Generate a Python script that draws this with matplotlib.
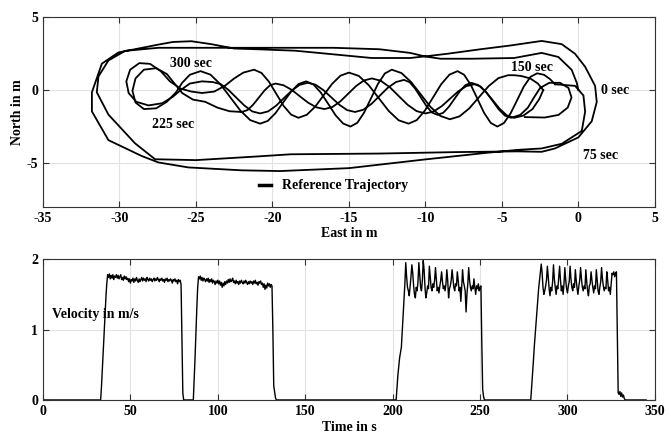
import matplotlib
matplotlib.use("Agg")
import matplotlib.pyplot as plt
import numpy as np

plt.rcParams['font.family'] = ['Liberation Serif', 'DejaVu Serif']
plt.rcParams['font.weight'] = 'bold'
plt.rcParams['axes.labelweight'] = 'bold'
plt.rcParams['axes.unicode_minus'] = False

# ---- trajectory (East / North in m) ----
# first outer lap (33-80 s) running on into the second lap (87-133 s)
lap_east = [0.0, -0.11, -0.44, -1.31, -2.4, -4.2, -7.0, -9.0, -10.0, -11.0, -13.0, -16.0,
            -20.0, -24.0, -27.45, -29.63, -30.72, -31.37, -31.48, -30.72, -28.98, -27.67,
            -25.0, -21.0, -18.8, -13.0, -8.0, -4.0, -2.4, -1.53, 0.0, 0.87, 1.2, 1.09, 0.44,
            -0.22, -1.09, -2.4,
            -4.5, -6.4, -8.5, -9.7, -11.0, -13.5, -16.0, -18.5, -21.0, -22.5, -24.0, -25.3,
            -26.5, -27.45, -30.07, -31.15, -31.8, -31.8, -30.72, -28.54, -27.45, -25.5, -22.0,
            -19.5, -15.0, -10.0, -6.0, -4.0, -2.4, -1.09, 0.22, 0.44, 0.33, -0.22, -1.53]
lap_north = [0.0, 0.51, 1.39, 2.27, 2.55, 2.2, 2.15, 2.15, 2.3, 2.55, 2.8, 2.9,
             2.9, 2.9, 2.9, 2.69, 2.03, 0.94, -0.15, -1.68, -3.65, -4.74,
             -4.8, -4.55, -4.4, -4.35, -4.25, -4.2, -4.23, -4.0, -3.24, -2.14, -0.81, 0.29, 1.6,
             2.49, 3.15, 3.37,
             3.05, 2.8, 2.5, 2.35, 2.2, 2.2, 2.45, 2.7, 2.8, 2.85, 3.15, 3.35,
             3.3, 3.12, 2.58, 1.81, -0.15, -1.46, -3.43, -4.52, -4.96, -5.3, -5.5,
             -5.55, -5.35, -4.75, -4.3, -4.1, -4.0, -3.68, -2.8, -1.48, -0.37, 0.29, 0.4]

# third run (205-252 s): weaving west, outer loop at the west end, weaving back east
run3_east = [-1.53, -1.85, -2.25, -2.7,
             -3.13, -3.57, -4.0, -4.43, -4.87, -5.3,
             -5.73, -6.17, -6.6, -7.03, -7.47, -7.9,
             -8.43, -8.97, -9.5, -10.03, -10.57, -11.1,
             -11.75, -12.4, -13.05, -13.7, -14.35, -15.0,
             -15.55, -16.1, -16.65, -17.2, -17.75, -18.3,
             -18.78, -19.27, -19.75, -20.23, -20.72, -21.2,
             -21.9, -22.5, -23.1, -23.8, -24.6, -25.3, -26.0, -26.7, -27.3, -28.0, -28.7,
             -29.3, -29.55, -29.4, -28.9, -28.1, -27.2, -26.5, -26.0, -25.4, -24.6, -23.9,
             -23.38, -22.87, -22.35, -21.83, -21.32, -20.8,
             -20.28, -19.77, -19.25, -18.73, -18.22, -17.7,
             -17.18, -16.67, -16.15, -15.63, -15.12, -14.6,
             -14.07, -13.53, -13.0, -12.47, -11.93, -11.4,
             -11.03, -10.67, -10.3, -9.93, -9.57, -9.2,
             -8.83, -8.47, -8.1, -7.73, -7.37, -7.0,
             -6.53, -6.07, -5.6, -5.13, -4.67, -4.2,
             -3.6, -3.0, -2.55, -2.3]
run3_north = [0.4, 0.75, 1.05, 1.15,
              0.91, 0.24, -0.68, -1.59, -2.26, -2.5,
              -2.25, -1.55, -0.6, 0.35, 1.05, 1.3,
              1.06, 0.4, -0.5, -1.4, -2.06, -2.3,
              -2.07, -1.43, -0.55, 0.33, 0.97, 1.2,
              0.99, 0.43, -0.35, -1.13, -1.69, -1.9,
              -1.68, -1.08, -0.25, 0.58, 1.18, 1.4,
              1.2, 0.8, 0.3, -0.1, -0.2, -0.1, 0.1, 0.6, 1.3, 1.8, 1.85,
              1.4, 0.6, -0.2, -0.8, -1.05, -0.9, -0.45, 0.0, 0.45, 0.6, 0.55,
              0.41, 0.01, -0.53, -1.06, -1.46, -1.6,
              -1.46, -1.08, -0.55, -0.03, 0.36, 0.5,
              0.37, 0.0, -0.5, -1.0, -1.37, -1.5,
              -1.35, -0.95, -0.4, 0.15, 0.55, 0.7,
              0.54, 0.1, -0.5, -1.1, -1.54, -1.7,
              -1.55, -1.15, -0.6, -0.05, 0.35, 0.5,
              0.34, -0.1, -0.7, -1.3, -1.74, -1.9,
              -1.75, -1.3, -0.6, 0.0]

# fourth run (280-333 s): weaving west, inner loop at the west end, back east
run4_east = [-2.3, -2.65, -3.15, -3.75, -4.2, -4.6,
             -5.23, -5.87, -6.5, -7.13, -7.77, -8.4,
             -9.03, -9.67, -10.3, -10.93, -11.57, -12.2,
             -12.65, -13.1, -13.55, -14.0, -14.45, -14.9,
             -15.38, -15.87, -16.35, -16.83, -17.32, -17.8,
             -18.3, -18.8, -19.3, -19.8, -20.3, -20.8,
             -21.45, -22.1, -22.75, -23.4, -24.05, -24.7,
             -25.4, -25.9, -26.3, -26.9, -27.6, -28.4, -28.95, -29.15, -28.95, -28.4,
             -27.6, -26.9, -26.4, -25.9, -25.2, -24.4, -23.6, -22.8, -22.0,
             -21.63, -21.27, -20.9, -20.53, -20.17, -19.8,
             -19.27, -18.73, -18.2, -17.67, -17.13, -16.6,
             -16.08, -15.57, -15.05, -14.53, -14.02, -13.5,
             -12.92, -12.33, -11.75, -11.17, -10.58, -10.0,
             -9.47, -8.93, -8.4, -7.87, -7.33, -6.8,
             -6.4, -6.0, -5.6, -5.2, -4.8, -4.4,
             -3.8, -3.3, -2.9, -2.5, -1.9, -1.2, -0.65, -0.45, -0.7, -1.3, -2.2, -3.5]
run4_north = [0.0, 0.45, 0.8, 0.97, 1.02, 1.02,
              0.82, 0.27, -0.49, -1.25, -1.8, -2.0,
              -1.77, -1.15, -0.3, 0.55, 1.17, 1.4,
              1.14, 0.43, -0.55, -1.53, -2.24, -2.5,
              -2.29, -1.73, -0.95, -0.18, 0.39, 0.6,
              0.41, -0.13, -0.85, -1.58, -2.11, -2.3,
              -2.06, -1.4, -0.5, 0.4, 1.06, 1.3,
              1.05, 0.5, -0.15, -0.8, -1.25, -1.3, -0.85, -0.05, 0.8, 1.4,
              1.5, 1.1, 0.45, -0.2, -0.65, -0.8, -1.2, -1.45, -1.5,
              -1.37, -1.01, -0.53, -0.04, 0.32, 0.45,
              0.33, 0.01, -0.43, -0.86, -1.18, -1.3,
              -1.16, -0.78, -0.25, 0.28, 0.66, 0.8,
              0.64, 0.2, -0.4, -1.0, -1.44, -1.6,
              -1.47, -1.1, -0.6, -0.1, 0.27, 0.4,
              0.25, -0.18, -0.75, -1.33, -1.75, -1.9,
              -1.7, -1.2, -0.5, 0.15, 0.5, 0.5, 0.15, -0.5, -1.2, -1.7, -1.88, -1.85]

time_labels = ["0 sec", "75 sec", "150 sec", "225 sec", "300 sec"]
label_east = [1.5, 0.3, -4.4, -27.9, -26.7]
label_north = [0.0, -4.5, 1.55, -2.35, 1.85]

# ---- velocity (m/s), sampled every 0.5 s while moving ----
run1_start = 33.0
run1_v = [0.0, 0.2, 0.45, 0.7, 0.95, 1.2, 1.45, 1.65, 1.78,
          1.74, 1.79, 1.72, 1.77, 1.73, 1.78, 1.71, 1.76, 1.74, 1.78,
          1.73, 1.77, 1.72, 1.75, 1.78, 1.71, 1.74, 1.70, 1.76, 1.72,
          1.75, 1.71, 1.73, 1.68, 1.72, 1.66, 1.71, 1.69, 1.73, 1.67,
          1.72, 1.69, 1.74, 1.70, 1.67, 1.72, 1.68, 1.71, 1.74, 1.69,
          1.73, 1.70, 1.72, 1.68, 1.74, 1.71, 1.69, 1.73, 1.70, 1.72,
          1.68, 1.71, 1.73, 1.69, 1.72, 1.70, 1.74, 1.71, 1.68, 1.72,
          1.70, 1.73, 1.69, 1.71, 1.67, 1.72, 1.70, 1.73, 1.68, 1.71,
          1.69, 1.72, 1.70, 1.66, 1.71, 1.69, 1.72, 1.68, 1.70, 1.65,
          1.71, 1.68, 1.70, 1.64, 0.9, 0.1, 0.0]
run2_start = 86.0
run2_v = [0.0, 0.3, 0.6, 0.95, 1.3, 1.6, 1.75,
          1.72, 1.76, 1.70, 1.74, 1.69, 1.73, 1.71, 1.68, 1.72, 1.69,
          1.73, 1.67, 1.71, 1.68, 1.72, 1.66, 1.70, 1.68, 1.64, 1.69,
          1.66, 1.70, 1.65, 1.69, 1.63, 1.67, 1.60, 1.66, 1.62, 1.68,
          1.64, 1.69, 1.66, 1.71, 1.67, 1.72, 1.68, 1.70, 1.73, 1.67,
          1.69, 1.65, 1.70, 1.66, 1.68, 1.64, 1.69, 1.66, 1.70, 1.67,
          1.65, 1.69, 1.66, 1.70, 1.67, 1.64, 1.68, 1.65, 1.69, 1.66,
          1.68, 1.64, 1.69, 1.66, 1.70, 1.65, 1.67, 1.63, 1.68, 1.66,
          1.69, 1.64, 1.66, 1.60, 1.65, 1.57, 1.63, 1.59, 1.66, 1.62,
          1.65, 1.60, 1.64, 1.62, 1.0, 0.2, 0.12, 0.03, 0.0]
run3_start = 202.0
run3_v = [0.0, 0.18, 0.35, 0.48, 0.6, 0.68, 0.75, 0.98, 1.2, 1.42, 1.65, 1.95,
          1.75, 1.6, 1.55, 1.48, 1.62, 1.75, 1.92, 1.8, 1.62, 1.5, 1.45, 1.6, 1.55, 1.68,
          1.95, 1.78, 1.6, 1.55, 1.7, 1.98, 1.85, 1.6, 1.45, 1.52, 1.62, 1.58, 1.9, 1.75,
          1.6, 1.55, 1.65, 1.6, 1.7, 1.88, 1.72, 1.55, 1.6, 1.52, 1.62, 1.7, 1.82, 1.68,
          1.58, 1.62, 1.55, 1.65, 1.85, 1.7, 1.45, 1.58, 1.62, 1.7, 1.85, 1.72, 1.6, 1.55,
          1.65, 1.62, 1.82, 1.7, 1.55, 1.6, 1.4, 1.6, 1.85, 1.68, 1.62, 1.55, 1.25, 1.5,
          1.65, 1.88, 1.7, 1.6, 1.55, 1.62, 1.58, 1.72, 1.6, 1.5, 1.62, 1.58, 1.65, 1.55,
          1.6, 1.62, 0.8, 0.15, 0.05, 0.0]
run4_start = 279.0
run4_v = [0.0, 0.18, 0.35, 0.55, 0.75, 0.92, 1.1, 1.28, 1.45, 1.58, 1.7, 1.82, 1.93,
          1.8, 1.6, 1.5, 1.55, 1.62, 1.7, 1.9, 1.75, 1.58, 1.48, 1.6, 1.55, 1.68, 1.92,
          1.72, 1.6, 1.5, 1.62, 1.58, 1.75, 1.9, 1.7, 1.55, 1.62, 1.5, 1.65, 1.88, 1.7,
          1.58, 1.52, 1.62, 1.68, 1.9, 1.72, 1.6, 1.55, 1.65, 1.6, 1.85, 1.7, 1.58, 1.5,
          1.62, 1.7, 1.88, 1.72, 1.6, 1.55, 1.62, 1.58, 1.85, 1.68, 1.55, 1.48, 1.62, 1.65,
          1.82, 1.7, 1.6, 1.52, 1.62, 1.58, 1.85, 1.7, 1.55, 1.5, 1.6, 1.68, 1.88, 1.72,
          1.62, 1.55, 1.6, 1.58, 1.82, 1.7, 1.55, 1.6, 1.5, 1.65, 1.8, 1.78, 1.82, 1.75,
          1.8, 1.82, 1.0, 0.1, 0.08, 0.12, 0.05, 0.1, 0.04, 0.07, 0.02, 0.0]
t_end = 345.0

# build the time series
t_parts, v_parts = [np.array([0.0])], [np.array([0.0])]
for start, vals in [(run1_start, run1_v), (run2_start, run2_v),
                    (run3_start, run3_v), (run4_start, run4_v)]:
    t_parts.append(start + 0.5 * np.arange(len(vals)))
    v_parts.append(np.array(vals))
t_parts.append(np.array([t_end]))
v_parts.append(np.array([0.0]))
time_s = np.concatenate(t_parts)
vel = np.concatenate(v_parts)

# ---- figure ----
fig = plt.figure(figsize=(6.71, 4.40), dpi=100)
ax1 = fig.add_axes([0.064, 0.530, 0.912, 0.431])
ax2 = fig.add_axes([0.064, 0.091, 0.912, 0.320])

for ax in (ax1, ax2):
    ax.grid(True, color='#e2e2e2', linewidth=0.8)
    ax.set_axisbelow(True)
    ax.tick_params(direction='in', top=True, right=True, length=4, labelsize=10,
                   color='#333333')
    for sp in ax.spines.values():
        sp.set_color('#333333')
        sp.set_linewidth(0.8)

kw = dict(color='black', linewidth=1.3, solid_joinstyle='round')
ax1.plot(lap_east, lap_north, label='Reference Trajectory', **kw)
ax1.plot(run3_east, run3_north, **kw)
ax1.plot(run4_east, run4_north, **kw)
for txt, x, y in zip(time_labels, label_east, label_north):
    ax1.text(x, y, txt, fontsize=10, fontweight='bold', va='center', ha='left')

ax1.set_xlim(-35, 5)
ax1.set_ylim(-8, 5)
ax1.set_xticks(np.arange(-35, 6, 5))
ax1.set_yticks([-5, 0, 5])
ax1.set_xlabel('East in m', fontsize=10, labelpad=2)
ax1.set_ylabel('North in m', fontsize=10, labelpad=2)
leg = ax1.legend(loc='center', bbox_to_anchor=(0.475, 0.11), frameon=False,
                 handlelength=0.8, handletextpad=0.8, prop={'weight': 'bold', 'size': 10})
leg.get_lines()[0].set_linewidth(2.5)

ax2.plot(time_s, vel, color='black', linewidth=1.0)
ax2.set_xlim(0, 350)
ax2.set_ylim(0, 2)
ax2.set_xticks(np.arange(0, 351, 50))
ax2.set_yticks([0, 1, 2])
ax2.set_xlabel('Time in s', fontsize=10, labelpad=2)
ax2.text(5, 1.22, 'Velocity in m/s', fontsize=10, fontweight='bold', va='center')

plt.savefig('out.png', dpi=100)
